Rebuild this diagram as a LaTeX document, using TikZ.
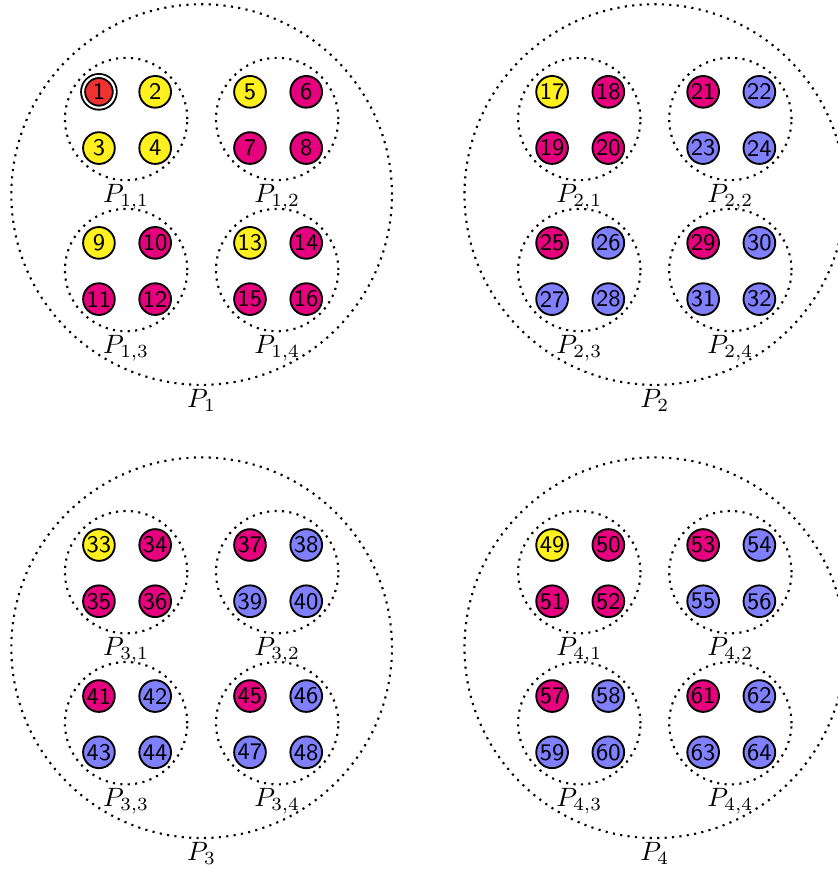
\documentclass[tikz,border=0pt]{standalone}
\usepackage{tikz}
\usetikzlibrary{positioning,calc}
\definecolor{redcol}{HTML}{F03232}
\definecolor{yelcol}{HTML}{FFF01E}
\definecolor{magcol}{HTML}{E6007E}
\definecolor{blucol}{HTML}{8080FF}

\begin{document}
\begin{tikzpicture}[
   pnode/.style={circle,draw,line width=0.7pt,minimum size=4.2mm,inner sep=0pt,
                 font=\sffamily\small},
   redn/.style={pnode,fill=redcol,double,double distance=0.8pt},
   yeln/.style={pnode,fill=yelcol},
   magn/.style={pnode,fill=magcol},
   blun/.style={pnode,fill=blucol},
   bigpart/.style={circle,draw,dotted,line width=0.8pt,minimum size=5.04cm,inner sep=0pt},
   subpart/.style={circle,draw,dotted,line width=0.8pt,minimum size=1.62cm,inner sep=0pt},
   plabel/.style={inner sep=1pt},
   node distance=3mm,
]
\useasboundingbox (-2.67,-8.93) rectangle (8.417,2.576);

% outer parts P_i
\foreach \i/\px/\py in {1/0/0,2/6/0,3/0/-6,4/6/-6} {
  \node[bigpart] (P\i) at (\px,\py) {};
  \node[plabel,below=0pt of P\i] (lP\i) {$P_{\i}$};
  % inner parts P_{i,j}
  \foreach \j/\qx/\qy in {1/-1/1,2/1/1,3/-1/-1,4/1/-1} {
    \node[subpart] (P\i\j) at ($(P\i)+(\qx,\qy)$) {};
    \node[plabel,below=0pt of P\i\j] (lP\i\j) {$P_{\i,\j}$};
    \pgfmathtruncatemacro\ka{16*(\i-1)+4*(\j-1)+1}
    \pgfmathtruncatemacro\kb{\ka+1}
    \pgfmathtruncatemacro\kc{\ka+2}
    \pgfmathtruncatemacro\kd{\ka+3}
    \ifnum\i=1 \def\fa{yeln}\def\fb{magn}%
    \else\ifnum\j=1 \def\fa{yeln}\def\fb{magn}%
    \else \def\fa{magn}\def\fb{blun}\fi\fi
    \ifnum\ka=1 \def\fa{redn}\def\fb{yeln}\fi
    \node[\fa] (n\ka) at ($(P\i\j)+(-.36,.36)$) {\ka};
    \node[\fb,right=of n\ka] (n\kb) {\kb};
    \node[\fb,below=of n\ka] (n\kc) {\kc};
    \node[\fb,below=of n\kb] (n\kd) {\kd};
  }
}
\end{tikzpicture}
\end{document}
